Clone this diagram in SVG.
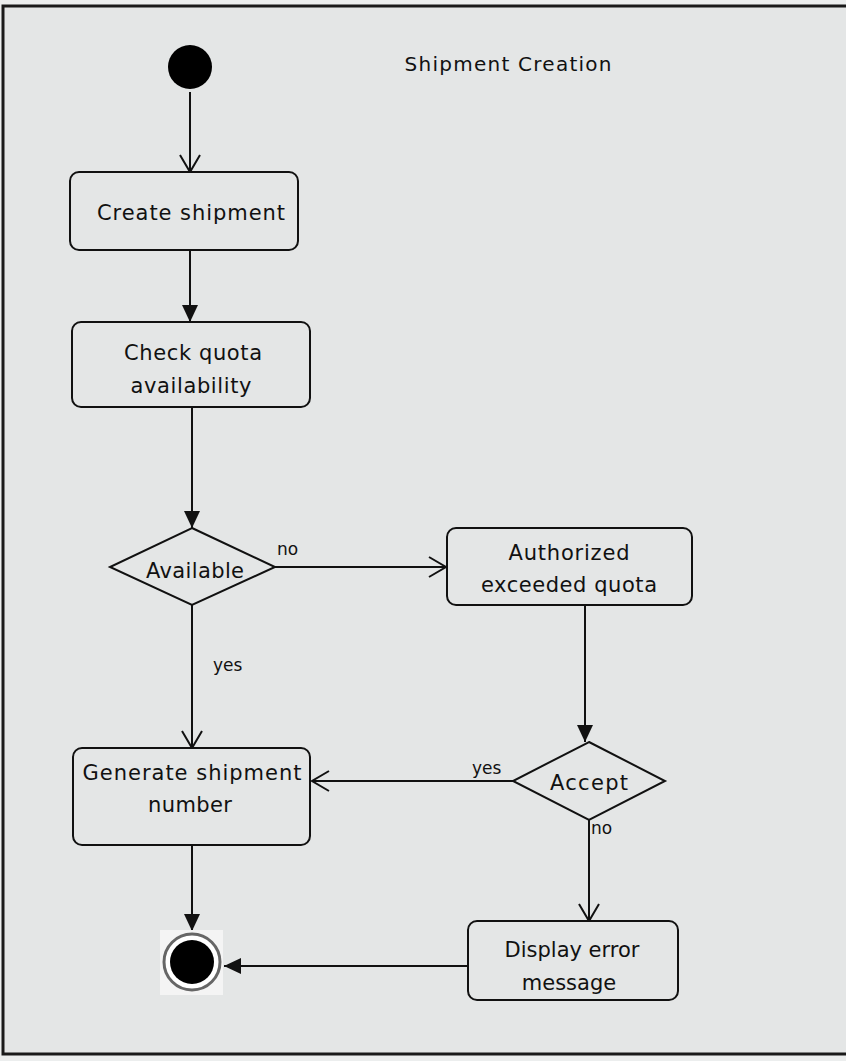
<svg xmlns="http://www.w3.org/2000/svg" width="846" height="1061" viewBox="0 0 846 1061">
  <style>
    .node { fill: #e4e6e6; stroke: #111; stroke-width: 2; }
    .label { font-family: "DejaVu Sans", "Liberation Sans", sans-serif; font-size: 21px; fill: #111; text-anchor: middle; }
    .guard { font-family: "DejaVu Sans", "Liberation Sans", sans-serif; font-size: 17px; fill: #111; }
    .flow { fill: none; stroke: #111; stroke-width: 2; }
  </style>
  <defs>
    <marker id="open" viewBox="0 0 20 22" refX="18" refY="11" markerWidth="20" markerHeight="22" markerUnits="userSpaceOnUse" orient="auto">
      <path d="M1,1 L18,11 L1,21" fill="none" stroke="#111" stroke-width="2"/>
    </marker>
    <marker id="solid" viewBox="0 0 18 18" refX="17" refY="9" markerWidth="18" markerHeight="18" markerUnits="userSpaceOnUse" orient="auto">
      <path d="M0,1 L17,9 L0,17 z" fill="#111"/>
    </marker>
  </defs>

  <!-- page background and frame -->
  <rect x="0" y="0" width="846" height="1061" fill="#eceeee"/>
  <rect x="3" y="6" width="850" height="1048" fill="#e4e6e6" stroke="#1a1a1a" stroke-width="3"/>

  <text class="label" x="508" y="71" textLength="207" lengthAdjust="spacing" style="font-size:20px">Shipment Creation</text>

  <!-- control flow -->
  <g id="connectors">
    <path class="flow" d="M190,92 V172" marker-end="url(#open)"/>
    <path class="flow" d="M190,250 V322" marker-end="url(#solid)"/>
    <path class="flow" d="M192,407 V528" marker-end="url(#solid)"/>
    <path class="flow" d="M275,567 H446" marker-end="url(#open)"/>
    <path class="flow" d="M451,533 L454,541"/>
    <path class="flow" d="M192,605 V748" marker-end="url(#open)"/>
    <path class="flow" d="M585,605 V742" marker-end="url(#solid)"/>
    <path class="flow" d="M513,781 H312" marker-end="url(#open)"/>
    <path class="flow" d="M589,820 V921" marker-end="url(#open)"/>
    <path class="flow" d="M192,845 V931" marker-end="url(#solid)"/>
    <path class="flow" d="M468,966 H224" marker-end="url(#solid)"/>
    <text class="guard" x="277" y="555">no</text>
    <text class="guard" x="213" y="671">yes</text>
    <text class="guard" x="472" y="774">yes</text>
    <text class="guard" x="591" y="834">no</text>
  </g>

  <g id="start">
    <circle cx="190" cy="67" r="22" fill="#000"/>
  </g>

  <g id="create-shipment">
    <rect class="node" x="70" y="172" width="228" height="78" rx="9"/>
    <text class="label" x="191" y="220" textLength="188" lengthAdjust="spacing">Create shipment</text>
  </g>

  <g id="check-quota">
    <rect class="node" x="72" y="322" width="238" height="85" rx="9"/>
    <text class="label" x="193" y="360" textLength="138" lengthAdjust="spacing">Check quota</text>
    <text class="label" x="191" y="393" textLength="121" lengthAdjust="spacing">availability</text>
  </g>

  <g id="available">
    <polygon class="node" points="192,528 275,567 192,605 110,567"/>
    <text class="label" x="195" y="578" textLength="98" lengthAdjust="spacing">Available</text>
  </g>

  <g id="authorized">
    <rect class="node" x="447" y="528" width="245" height="77" rx="9"/>
    <text class="label" x="569" y="560" textLength="121" lengthAdjust="spacing">Authorized</text>
    <text class="label" x="569" y="592" textLength="176" lengthAdjust="spacing">exceeded quota</text>
  </g>

  <g id="accept">
    <polygon class="node" points="589,742 665,781 589,820 513,781"/>
    <text class="label" x="589" y="790" textLength="78" lengthAdjust="spacing">Accept</text>
  </g>

  <g id="generate-number">
    <rect class="node" x="73" y="748" width="237" height="97" rx="9"/>
    <text class="label" x="192" y="780" textLength="219" lengthAdjust="spacing">Generate shipment</text>
    <text class="label" x="190" y="812" textLength="84" lengthAdjust="spacing">number</text>
  </g>

  <g id="display-error">
    <rect class="node" x="468" y="921" width="210" height="79" rx="9"/>
    <text class="label" x="572" y="957">Display error</text>
    <text class="label" x="569" y="990">message</text>
  </g>

  <g id="end">
    <rect x="160" y="930" width="63" height="65" fill="#f4f4f4"/>
    <circle cx="192" cy="962" r="28" fill="#fff" stroke="#666" stroke-width="3"/>
    <circle cx="192" cy="962" r="22" fill="#000"/>
  </g>
</svg>
